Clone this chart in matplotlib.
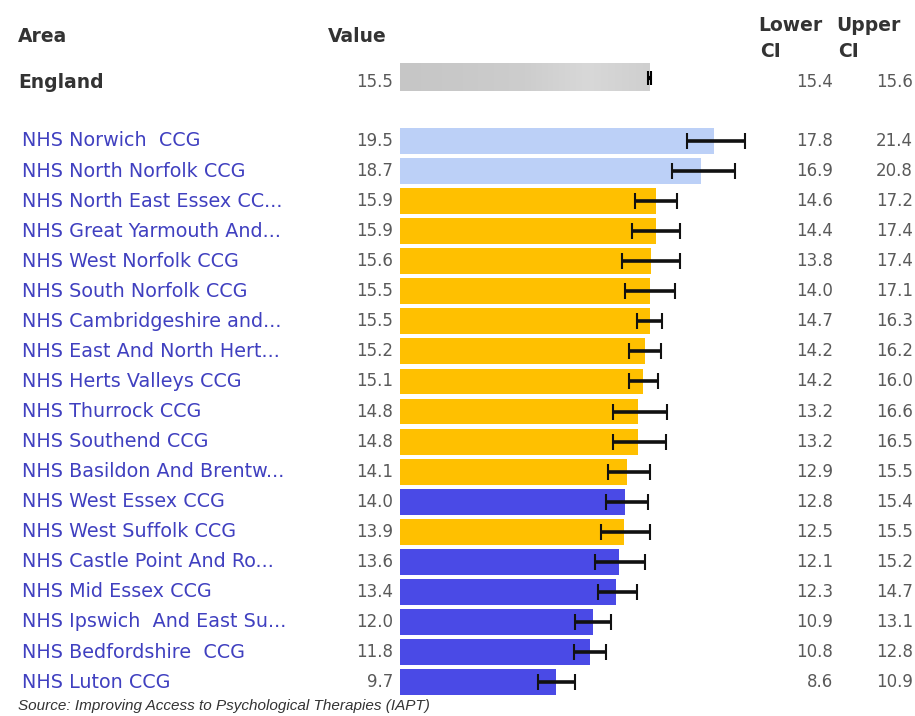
import matplotlib
matplotlib.use("Agg")
import matplotlib.pyplot as plt
import matplotlib.transforms as mtransforms
import numpy as np

areas = ["NHS Norwich  CCG", "NHS North Norfolk CCG", "NHS North East Essex CC...",
         "NHS Great Yarmouth And...", "NHS West Norfolk CCG", "NHS South Norfolk CCG",
         "NHS Cambridgeshire and...", "NHS East And North Hert...", "NHS Herts Valleys CCG",
         "NHS Thurrock CCG", "NHS Southend CCG", "NHS Basildon And Brentw...",
         "NHS West Essex CCG", "NHS West Suffolk CCG", "NHS Castle Point And Ro...",
         "NHS Mid Essex CCG", "NHS Ipswich  And East Su...", "NHS Bedfordshire  CCG",
         "NHS Luton CCG"]
values = [19.5, 18.7, 15.9, 15.9, 15.6, 15.5, 15.5, 15.2, 15.1, 14.8, 14.8, 14.1,
          14.0, 13.9, 13.6, 13.4, 12.0, 11.8, 9.7]
lower_ci = [17.8, 16.9, 14.6, 14.4, 13.8, 14.0, 14.7, 14.2, 14.2, 13.2, 13.2, 12.9,
            12.8, 12.5, 12.1, 12.3, 10.9, 10.8, 8.6]
upper_ci = [21.4, 20.8, 17.2, 17.4, 17.4, 17.1, 16.3, 16.2, 16.0, 16.6, 16.5, 15.5,
            15.4, 15.5, 15.2, 14.7, 13.1, 12.8, 10.9]
# comparison vs England: H = higher, S = similar, L = lower
significance = ["H", "H", "S", "S", "S", "S", "S", "S", "S", "S", "S", "S",
                "L", "S", "L", "L", "L", "L", "L"]
england_value = 15.5
england_lower = 15.4
england_upper = 15.6
source_text = "Source: Improving Access to Psychological Therapies (IAPT)"

colors = {"H": "#bcd0f7", "S": "#ffc000", "L": "#4a4ae6"}

W, H = 915, 716
fig = plt.figure(figsize=(W / 100, H / 100), dpi=100)
fig.patch.set_facecolor("white")

px_per_unit = 16.1
x0_px = 400
row0_px = 141
row_h = 30.06

ax = fig.add_axes([x0_px / W, 0, (W - x0_px) / W, 1])
ax.axis("off")

y = np.arange(len(areas))
england_y = -2.1
england_text_y = -1.96
header_y = -3.47

# England gradient bar
grad = np.linspace(0, 1, 256)
cm = matplotlib.colors.LinearSegmentedColormap.from_list(
    "g", ["#c6c6c6", "#c9c9c9", "#cdcdcd", "#d8d8d8", "#cfcfcf"])
ax.imshow(grad[np.newaxis, :], cmap=cm, aspect="auto",
          extent=[0, england_value, england_y + 0.45, england_y - 0.45], zorder=1)
ax.errorbar([england_value], [england_y],
            xerr=[[england_value - england_lower], [england_upper - england_value]],
            fmt="none", ecolor="black", elinewidth=3, capsize=5, capthick=1.5, zorder=3)
ax.set_xlim(0, (W - x0_px) / px_per_unit)
ax.set_ylim((H - row0_px) / row_h, -row0_px / row_h)

bar_colors = [colors[s] for s in significance]
ax.barh(y, values, height=0.86, color=bar_colors, zorder=2)
v = np.array(values)
ax.errorbar(v, y, xerr=[v - np.array(lower_ci), np.array(upper_ci) - v],
            fmt="none", ecolor="#111111", elinewidth=2.6, capsize=5.5, capthick=1.5, zorder=3)

tr = mtransforms.blended_transform_factory(fig.transFigure, ax.transData)

name_color = "#4040c0"
num_color = "#5a5a5a"
fs_name = 13.8
fs_num = 12

for i, (a, val, lo, up) in enumerate(zip(areas, values, lower_ci, upper_ci)):
    ax.text(22 / W, i, a, transform=tr, ha="left", va="center", color=name_color,
            fontsize=fs_name, family="DejaVu Sans")
    ax.text(393 / W, i, f"{val:.1f}", transform=tr, ha="right", va="center",
            color=num_color, fontsize=fs_num, family="DejaVu Sans")
    ax.text(833 / W, i, f"{lo:.1f}", transform=tr, ha="right", va="center",
            color=num_color, fontsize=fs_num, family="DejaVu Sans")
    ax.text(913 / W, i, f"{up:.1f}", transform=tr, ha="right", va="center",
            color=num_color, fontsize=fs_num, family="DejaVu Sans")

# England row
ax.text(18 / W, england_text_y, "England", transform=tr, ha="left", va="center",
        color="#333333", fontsize=13.5, fontweight="bold", family="DejaVu Sans")
ax.text(393 / W, england_text_y, f"{england_value:.1f}", transform=tr, ha="right",
        va="center", color=num_color, fontsize=fs_num, family="DejaVu Sans")
ax.text(833 / W, england_text_y, f"{england_lower:.1f}", transform=tr, ha="right",
        va="center", color=num_color, fontsize=fs_num, family="DejaVu Sans")
ax.text(913 / W, england_text_y, f"{england_upper:.1f}", transform=tr, ha="right",
        va="center", color=num_color, fontsize=fs_num, family="DejaVu Sans")

# Headers
hdr = dict(transform=tr, va="center", color="#333333", fontsize=13.5,
           fontweight="bold", family="DejaVu Sans")
ax.text(18 / W, header_y, "Area", ha="left", **hdr)
ax.text(328 / W, header_y, "Value", ha="left", **hdr)
ax.text(758 / W, -3.85, "Lower", ha="left", **hdr)
ax.text(760 / W, -2.97, "CI", ha="left", **hdr)
ax.text(836 / W, -3.85, "Upper", ha="left", **hdr)
ax.text(838 / W, -2.97, "CI", ha="left", **hdr)

# Source
ax.text(18 / W, 18.8, source_text, transform=tr, ha="left", va="center",
        color="#333333", fontsize=11, style="italic", family="Liberation Sans")

fig.savefig("out.png", dpi=100, facecolor="white")
